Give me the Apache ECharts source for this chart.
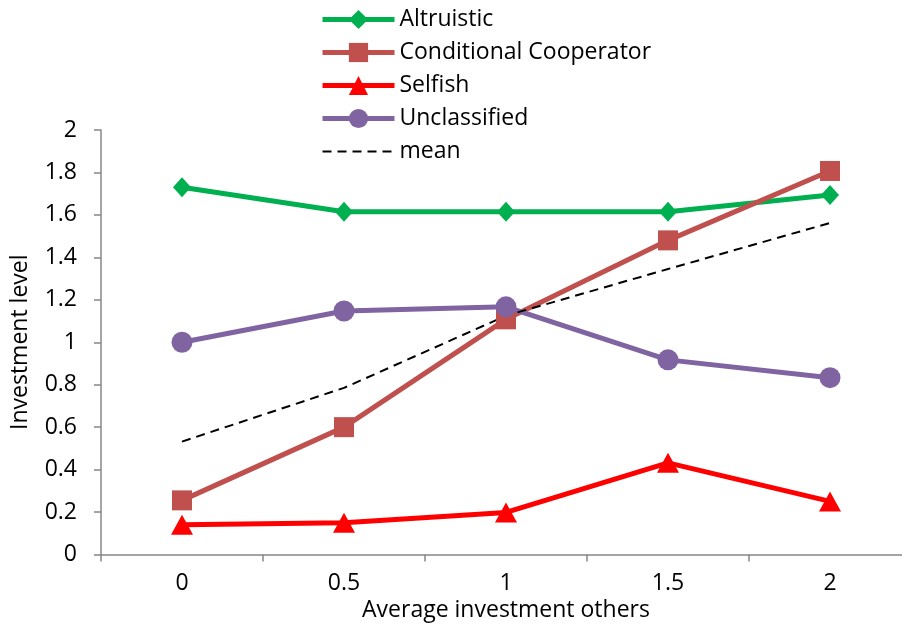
<!DOCTYPE html>
<html>
<head>
<meta charset="utf-8">
<script src="https://cdn.jsdelivr.net/npm/echarts@6/dist/echarts.min.js"></script>
<style>
  html, body { margin: 0; padding: 0; background: #fff; }
  #chart { width: 902px; height: 624px; }
</style>
</head>
<body>
<div id="chart"></div>
<script>
// Investment level by contributor type, against the average investment of others
const categories = ['0', '0.5', '1', '1.5', '2'];
const altruistic = [1.73, 1.615, 1.615, 1.615, 1.694];
const conditionalCooperator = [0.255, 0.6, 1.108, 1.48, 1.807];
const selfish = [0.14, 0.15, 0.198, 0.432, 0.25];
const unclassified = [1.0, 1.147, 1.167, 0.917, 0.833];
const mean = [0.532, 0.785, 1.125, 1.345, 1.562];
const yTicks = { min: 0, max: 2, step: 0.2 };

const FONT = 'Open Sans';
const FONT_SIZE = 23;
const axisGray = '#878787';

function lineSeries(name, data, color, symbol, size) {
  return {
    name: name,
    type: 'line',
    data: data,
    symbol: symbol,
    symbolSize: size,
    showSymbol: true,
    lineStyle: { color: color, width: 5 },
    itemStyle: { color: color },
    emphasis: { disabled: true },
    animation: false
  };
}

const chart = echarts.init(document.getElementById('chart'), null, { renderer: 'canvas' });

chart.setOption({
  animation: false,
  textStyle: { fontFamily: FONT, color: '#000' },
  legend: {
    orient: 'vertical',
    left: 320,
    top: 8,
    padding: 0,
    itemWidth: 72,
    itemHeight: 24,
    itemGap: 10,
    lineStyle: { width: 'inherit' },
    textStyle: { fontFamily: FONT, fontSize: FONT_SIZE, color: '#000', padding: [0, 0, 0, 0] },
    data: [
      'Altruistic',
      'Conditional Cooperator',
      'Selfish',
      'Unclassified',
      { name: 'mean', itemStyle: { opacity: 0 } }
    ]
  },
  grid: {
    left: 101,
    top: 130,
    right: -9,
    bottom: 69.5,
    outerBoundsMode: 'none'
  },
  xAxis: {
    type: 'category',
    data: categories,
    boundaryGap: true,
    name: 'Average investment others',
    nameLocation: 'middle',
    nameGap: 41,
    nameTextStyle: { fontFamily: FONT, fontSize: FONT_SIZE, color: '#000' },
    axisLine: { lineStyle: { color: axisGray, width: 1.5 } },
    axisTick: { show: true, length: 7, lineStyle: { color: axisGray, width: 1.5 } },
    axisLabel: { fontFamily: FONT, fontSize: FONT_SIZE, color: '#000', margin: 17 },
    splitLine: { show: false }
  },
  yAxis: {
    type: 'value',
    min: yTicks.min,
    max: yTicks.max,
    interval: yTicks.step,
    name: 'Investment level',
    nameLocation: 'middle',
    nameGap: 69,
    nameTextStyle: { fontFamily: FONT, fontSize: FONT_SIZE, color: '#000' },
    axisLine: { show: true, lineStyle: { color: axisGray, width: 1.5 } },
    axisTick: { show: true, length: 7, lineStyle: { color: axisGray, width: 1.5 } },
    axisLabel: { fontFamily: FONT, fontSize: FONT_SIZE, color: '#000', margin: 24 },
    splitLine: { show: false }
  },
  series: [
    lineSeries('Altruistic', altruistic, '#00B050', 'diamond', [18, 20]),
    lineSeries('Conditional Cooperator', conditionalCooperator, '#C0504D', 'rect', 20),
    lineSeries('Selfish', selfish, '#FF0000', 'triangle', [22, 20]),
    lineSeries('Unclassified', unclassified, '#8064A2', 'circle', 21),
    {
      name: 'mean',
      type: 'line',
      data: mean,
      symbol: 'none',
      lineStyle: { color: '#000', width: 2, type: [9, 6] },
      itemStyle: { color: '#000' },
      emphasis: { disabled: true },
      animation: false
    }
  ]
});
</script>
</body>
</html>
